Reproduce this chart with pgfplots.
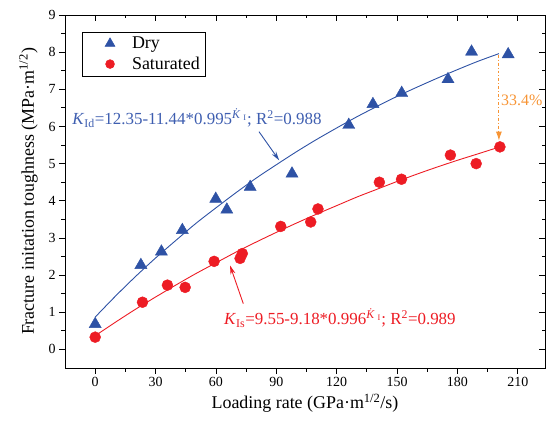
\documentclass[border=0pt]{standalone}
\usepackage{fontspec}
\setmainfont{Liberation Serif}
\usepackage{pgfplots}
\pgfplotsset{compat=1.18}
\usetikzlibrary{arrows.meta}
\definecolor{dblue}{RGB}{46,82,165}
\definecolor{tblue}{RGB}{62,94,176}
\definecolor{sred}{RGB}{237,28,36}
\definecolor{aorange}{RGB}{247,148,52}
\begin{document}
\begin{tikzpicture}
\begin{axis}[
 at={(0,0)}, anchor=south west,
 scale only axis, width=480bp, height=353bp,
 xmin=-15, xmax=223.5, ymin=-0.5, ymax=9,
 xtick={0,30,...,210}, ytick={0,1,...,9},
 minor x tick num=1, minor y tick num=1,
 xtick pos=bottom, ytick pos=left, tick align=outside,
 major tick length=6bp, minor tick length=3.5bp,
 axis line style={line width=0.8bp},
 every tick/.style={line width=0.8bp, black},
 ticklabel style={font=\fontsize{14}{16}\selectfont},
 /pgf/number format/assume math mode=true,
 xlabel={Loading rate (GPa·m\textsuperscript{1/2}/s)},
 ylabel={Fracture initation toughness (MPa·m\textsuperscript{1/2})},
 label style={font=\fontsize{18}{20}\selectfont},
 ylabel style={yshift=4bp},
 legend style={at={(0.035,0.953)}, anchor=north west, draw=black, line width=0.6bp,
   font=\fontsize{18}{20}\selectfont, row sep=3bp, inner xsep=3bp, inner ysep=3bp,
   nodes={inner xsep=3bp}},
 legend image code/.code={%
   \path[draw=none,fill=none] (-0.58cm,-0.2cm) rectangle (0.97cm,0.2cm);
   \draw[mark repeat=2,mark phase=2,#1,mark options={scale=0.8}] plot[only marks] coordinates {(0cm,0cm) (0.3cm,0cm) (0.6cm,0cm)};},
 legend cell align=left,
 clip=false,
]
\addplot[only marks, mark=triangle*, mark size=7bp, color=dblue] coordinates {
(0,0.68) (22.7,2.27) (32.9,2.63) (43.3,3.21) (59.9,4.05) (65.4,3.76) (77,4.37)
(97.8,4.73) (126,6.04) (138,6.6) (152.3,6.9) (175.3,7.27) (187,8.01) (205.2,7.94)};
\addlegendentry{Dry}
\addplot[only marks, mark=*, mark size=5.5bp, color=sred] coordinates {
(0,0.33) (23.5,1.27) (35.9,1.73) (44.7,1.67) (59.1,2.37) (72,2.45) (73.1,2.58)
(92.2,3.31) (107.1,3.43) (110.7,3.78) (141.2,4.50) (152.2,4.58) (176.5,5.23)
(189.3,5.0) (201.1,5.45)};
\addlegendentry{Saturated}
\addplot[smooth, no marks, color=dblue, line width=0.9bp, forget plot] coordinates {
(0,0.87) (10,1.43) (20,1.96) (30,2.46) (40,2.93) (50,3.39) (60,3.81) (70,4.22)
(80,4.61) (90,4.97) (100,5.32) (110,5.65) (120,5.96) (130,6.26) (140,6.54)
(150,6.81) (160,7.06) (170,7.30) (180,7.53) (190,7.75) (200.6,7.96)};
\addplot[smooth, no marks, color=sred, line width=0.9bp, forget plot] coordinates {
(0,0.37) (10,0.73) (20,1.08) (30,1.41) (40,1.73) (50,2.04) (60,2.33) (70,2.62)
(80,2.89) (90,3.15) (100,3.40) (110,3.64) (120,3.87) (130,4.10) (140,4.31)
(150,4.52) (160,4.72) (170,4.91) (180,5.09) (190,5.26) (201,5.45)};
\addplot[no marks, color=aorange, line width=0.9bp, dash dot, -{Latex[length=9bp,width=6bp]}, forget plot]
 coordinates {(200.6,7.93) (200.6,5.62)};
\node[anchor=west, text=aorange, font=\fontsize{16}{18}\selectfont, inner sep=0pt] at (axis cs:201.6,6.71) {33.4\%};
\draw[dblue, line width=0.9bp, -{Stealth[length=9bp,width=5bp]}] (axis cs:81.4,5.86) -- (axis cs:91.4,5.09);
\draw[sred, line width=0.9bp, -{Stealth[length=9bp,width=5bp]}] (axis cs:73.6,1.23) -- (axis cs:67,2.26);
\node[anchor=west, text=tblue, font=\fontsize{17}{19}\selectfont, inner sep=0pt] at (axis cs:-11.4,6.23)
 {\textit{K}\textsubscript{Id}=12.35-11.44*0.995\textsuperscript{\textit{\.K}\textsubscript{I}}; R\textsuperscript{2}=0.988};
\node[anchor=west, text=sred, font=\fontsize{17}{19}\selectfont, inner sep=0pt] at (axis cs:64,0.84)
 {\textit{K}\textsubscript{Is}=9.55-9.18*0.996\textsuperscript{\textit{\.K}\textsubscript{I}}; R\textsuperscript{2}=0.989};
\end{axis}
\begin{axis}[
 at={(0,0)}, anchor=south west,
 scale only axis, width=480bp, height=353bp,
 xmin=-15, xmax=223.5, ymin=-0.5, ymax=9,
 xtick={0,30,...,210}, ytick={0,1,...,9},
 minor x tick num=1, minor y tick num=1,
 xtick pos=top, ytick pos=right, tick align=inside,
 major tick length=6bp, minor tick length=3.5bp,
 axis line style={draw=none},
 every tick/.style={line width=0.8bp, black},
 xticklabels={}, yticklabels={},
 xticklabel style={text opacity=0}, yticklabel style={text opacity=0},
]
\end{axis}
\pgfresetboundingbox
\path[use as bounding box] (-65bp,-59bp) rectangle (482bp,368bp);
\end{tikzpicture}
\end{document}
